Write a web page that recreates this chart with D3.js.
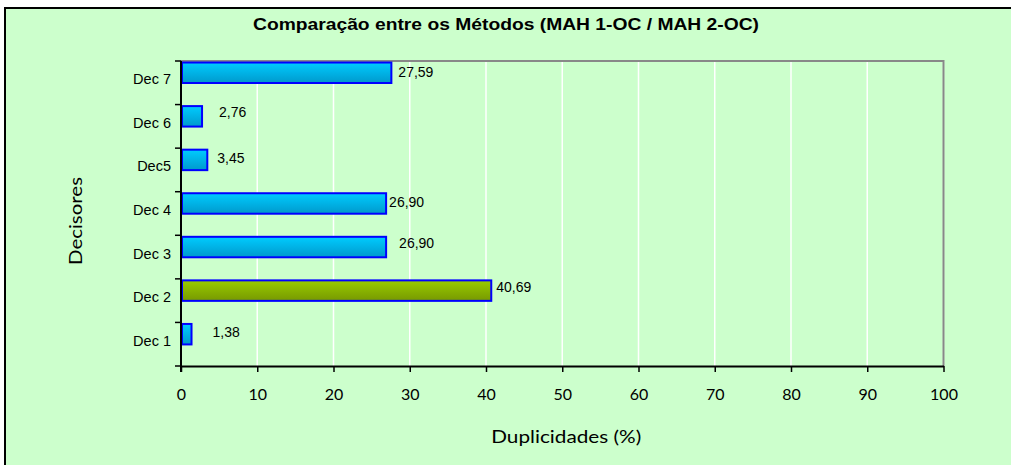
<!DOCTYPE html>
<html><head><meta charset="utf-8">
<script src="https://cdn.jsdelivr.net/npm/d3@7"></script>
<style>body{margin:0;background:#fff}svg{display:block}</style>
</head><body><svg id="c" width="1011" height="465"></svg>
<script>
const categories = ["Dec 7","Dec 6","Dec5","Dec 4","Dec 3","Dec 2","Dec 1"];
const values = [27.59, 2.76, 3.45, 26.90, 26.90, 40.69, 1.38];
const valueLabels = ["27,59","2,76","3,45","26,90","26,90","40,69","1,38"];
const highlighted = ["Dec 2"];
const xTicks = [0,10,20,30,40,50,60,70,80,90,100];
const labelDx = [7,17,10,3,13,5,21];
const labelDy = [-1,-4,-2,-1,-4,-4,-2];

const svg = d3.select("#c");
const defs = svg.append("defs");
const g1 = defs.append("linearGradient").attr("id","gBlue").attr("x1",0).attr("y1",0).attr("x2",0).attr("y2",1);
g1.append("stop").attr("offset","0%").attr("stop-color","#00ccff");
g1.append("stop").attr("offset","100%").attr("stop-color","#0099cc");
const g2 = defs.append("linearGradient").attr("id","gGreen").attr("x1",0).attr("y1",0).attr("x2",0).attr("y2",1);
g2.append("stop").attr("offset","0%").attr("stop-color","#99cc00");
g2.append("stop").attr("offset","100%").attr("stop-color","#779900");

svg.append("rect").attr("x",5).attr("y",8).attr("width",1011).attr("height",470)
  .attr("fill","#ccffcc").attr("stroke","#000").attr("stroke-width",2);

const L=181, R=943.5, T=61, B=366;
const x = d3.scaleLinear().domain([0,100]).range([L,R]);
const y = d3.scaleBand().domain(categories).range([T,B]).padding(0);

svg.append("g").selectAll("line").data(xTicks.slice(1)).join("line")
  .attr("x1",d=>x(d)).attr("x2",d=>x(d)).attr("y1",T).attr("y2",B)
  .attr("stroke","#fff").attr("stroke-width",1.5);

svg.append("path").attr("d",`M${L},${T}H${R}V${B}`).attr("fill","none")
  .attr("stroke","#888").attr("stroke-width",2);

const bw = y.bandwidth();
svg.append("g").selectAll("rect").data(categories).join("rect")
  .attr("x",x(0)+1)
  .attr("y",c=>y(c)+bw*0.035)
  .attr("width",(c,i)=>x(values[i])-x(0)-1)
  .attr("height",bw*0.47)
  .attr("fill",c=>highlighted.includes(c)?"url(#gGreen)":"url(#gBlue)")
  .attr("stroke","#0000ff").attr("stroke-width",2);

svg.append("g").selectAll("text").data(categories).join("text")
  .attr("x",(c,i)=>x(values[i])+labelDx[i])
  .attr("y",(c,i)=>y(c)+bw*0.035+bw*0.235+labelDy[i])
  .attr("dy","0.35em")
  .attr("font-family","Liberation Sans, Arial, sans-serif").attr("font-size",14)
  .attr("fill","#000")
  .text((c,i)=>valueLabels[i]);

const xa = svg.append("g").attr("transform",`translate(0,${B})`)
  .call(d3.axisBottom(x).tickValues(xTicks).tickSize(6).tickSizeOuter(0).tickFormat(d=>d));
xa.select(".domain").attr("stroke","#000").attr("stroke-width",2);
xa.selectAll(".tick line").attr("stroke","#000").attr("stroke-width",1.5);
xa.selectAll(".tick text").attr("font-family","Lato, sans-serif").attr("font-size",16)
  .attr("fill","#000").attr("dy","1.55em");

svg.append("line").attr("x1",L).attr("x2",L).attr("y1",T).attr("y2",B+6)
  .attr("stroke","#000").attr("stroke-width",2);
const yTickPos = categories.map(c=>y(c)).concat([B]);
svg.append("g").selectAll("line").data(yTickPos).join("line")
  .attr("x1",L-6).attr("x2",L).attr("y1",d=>d).attr("y2",d=>d)
  .attr("stroke","#000").attr("stroke-width",1.5);
svg.append("g").selectAll("text").data(categories).join("text")
  .attr("x",L-10).attr("y",c=>y(c)+bw/2).attr("dy","0.1em")
  .attr("text-anchor","end")
  .attr("font-family","Liberation Sans, Arial, sans-serif").attr("font-size",14.5)
  .attr("fill","#000").text(c=>c);

svg.append("text").attr("x",506).attr("y",30).attr("text-anchor","middle")
  .attr("font-family","Liberation Sans, Arial, sans-serif").attr("font-weight","bold")
  .attr("font-size",17).attr("fill","#000")
  .attr("textLength",506).attr("lengthAdjust","spacingAndGlyphs")
  .text("Comparação entre os Métodos (MAH 1-OC / MAH 2-OC)");
svg.append("text").attr("x",(L+R)/2+4).attr("y",443).attr("text-anchor","middle")
  .attr("font-family","Lato, sans-serif").attr("font-size",18).attr("fill","#000")
  .attr("textLength",150).attr("lengthAdjust","spacingAndGlyphs")
  .text("Duplicidades (%)");
svg.append("text").attr("transform","translate(82,221) rotate(-90)").attr("text-anchor","middle")
  .attr("font-family","Lato, sans-serif").attr("font-size",18).attr("fill","#000")
  .attr("textLength",88).attr("lengthAdjust","spacingAndGlyphs")
  .text("Decisores");
</script></body></html>
